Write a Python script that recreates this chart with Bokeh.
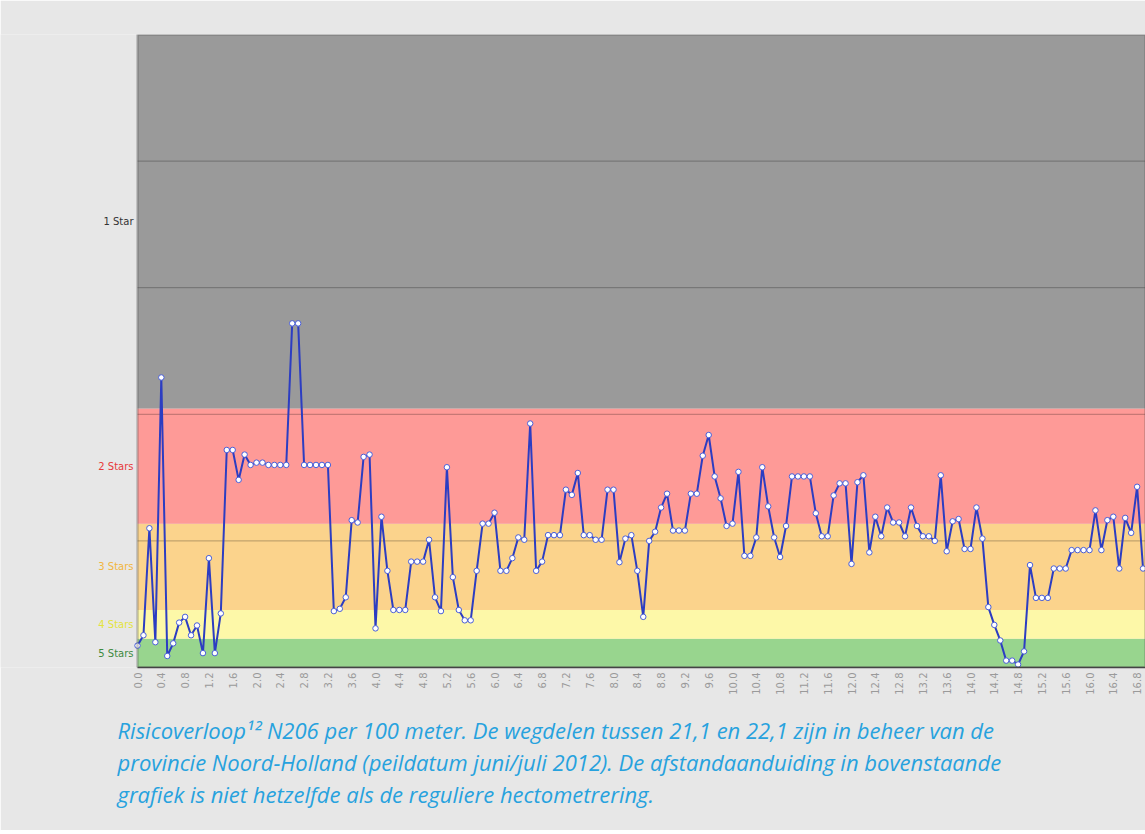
import math
from bokeh.plotting import figure
from bokeh.models import (ColumnDataSource, BoxAnnotation, Title, FixedTicker,
                          Range1d)
from bokeh.core.properties import value
from bokeh.embed import file_html
from bokeh.resources import INLINE

# ---------------- data ----------------
# risk score per 100 m section of the N206
risk = [
    1.9, 2.8, 12.1, 2.2, 25.2, 1.0, 2.1, 3.9, 4.4, 2.8,
    3.65, 1.25, 9.5, 1.25, 4.7, 18.9, 18.9, 16.3, 18.5, 17.6,
    17.8, 17.8, 17.6, 17.6, 17.6, 17.6, 29.9, 29.9, 17.6, 17.6,
    17.6, 17.6, 17.6, 4.9, 5.1, 6.1, 12.8, 12.6, 18.3, 18.5,
    3.4, 13.1, 8.4, 5.0, 5.0, 5.0, 9.2, 9.2, 9.2, 11.1,
    6.1, 4.9, 17.4, 7.85, 5.0, 4.1, 4.1, 8.4, 12.5, 12.5,
    13.45, 8.4, 8.4, 9.5, 11.3, 11.1, 21.2, 8.4, 9.2, 11.5,
    11.5, 11.5, 15.45, 15.0, 16.9, 11.5, 11.5, 11.1, 11.1, 15.45,
    15.45, 9.15, 11.2, 11.5, 8.4, 4.4, 11.0, 11.8, 13.9, 15.1,
    11.9, 11.9, 11.9, 15.1, 15.1, 18.4, 20.2, 16.6, 14.7, 12.3,
    12.5, 17.0, 9.7, 9.7, 11.3, 17.4, 14.0, 11.3, 9.6, 12.3,
    16.6, 16.6, 16.6, 16.6, 13.4, 11.4, 11.4, 14.95, 16.0, 16.0,
    9.0, 16.1, 16.7, 10.0, 13.1, 11.4, 13.9, 12.6, 12.6, 11.4,
    13.9, 12.3, 11.4, 11.4, 11.0, 16.7, 10.1, 12.7, 12.9, 10.3,
    10.3, 13.9, 11.2, 5.25, 3.7, 2.35, 0.6, 0.6, 0.26, 1.4,
    8.9, 6.05, 6.05, 6.05, 8.6, 8.6, 8.6, 10.2, 10.2, 10.2,
    10.2, 13.65, 10.2, 12.8, 13.1, 8.6, 13.0, 11.7, 15.7, 8.6,
]
# distance along the road (km), one section every 100 m
km = [round(i * 0.1, 1) for i in range(len(risk))]

tick_km = [0.0, 0.4, 0.8, 1.2, 1.6, 2.0, 2.4, 2.8, 3.2, 3.6, 4.0, 4.4, 4.8,
           5.2, 5.6, 6.0, 6.4, 6.8, 7.2, 7.6, 8.0, 8.4, 8.8, 9.2, 9.6, 10.0,
           10.4, 10.8, 11.2, 11.6, 12.0, 12.4, 12.8, 13.2, 13.6, 14.0, 14.4,
           14.8, 15.2, 15.6, 16.0, 16.4, 16.8]

# star-rating bands (risk score limits)
band_names = ["5 Stars", "4 Stars", "3 Stars", "2 Stars", "1 Star"]
band_low = [0.0, 2.5, 5.0, 12.5, 22.5]
band_high = [2.5, 5.0, 12.5, 22.5, 55.0]
band_fill = ["#98d58e", "#fdf8a8", "#fbd38c", "#fe9a97", "#9a9a9a"]
band_text = ["#3d8a3d", "#e4e43c", "#f2b640", "#e8393a", "#333333"]
grid_levels = [11, 22, 33, 44]

caption = [
    "Risicoverloop\u00b9\u00b2  N206 per 100 meter. De wegdelen tussen 21,1 en 22,1 zijn in beheer van de",
    "provincie Noord-Holland (peildatum juni/juli 2012). De afstandaanduiding in bovenstaande",
    "grafiek  is niet hetzelfde als de reguliere hectometrering.",
]

# ---------------- figure ----------------
PX_PER_KM = 59.5
LEFT_PX = 137
W, H = 1145, 830
x_start = -LEFT_PX / PX_PER_KM
x_end = (W - LEFT_PX) / PX_PER_KM

p = figure(width=W, height=H, output_backend="svg", toolbar_location=None,
           x_range=Range1d(x_start, x_end), y_range=Range1d(0, 55),
           min_border_left=0, min_border_right=0, min_border_top=34,
           min_border_bottom=163)
p.border_fill_color = "#e7e7e7"
p.background_fill_color = "#e7e7e7"
p.outline_line_color = None

# coloured star bands (start at km 0)
for lo, hi, col in zip(band_low, band_high, band_fill):
    p.add_layout(BoxAnnotation(left=0, bottom=lo, top=hi, fill_color=col,
                               fill_alpha=1.0, line_color=None, level="image"))
# plot-area border
p.add_layout(BoxAnnotation(left=0, bottom=0, top=55, fill_color=None,
                           line_color="#4a4a4a", line_width=2.5, level="overlay"))

p.yaxis.visible = False
p.xgrid.visible = False
p.ygrid.visible = False

# horizontal grid lines inside the plot area
p.ray(x=[0] * len(grid_levels), y=grid_levels, length=0, angle=0,
      line_color="#000000", line_alpha=0.28, line_width=1)

xa = p.xaxis[0]
xa.ticker = FixedTicker(ticks=tick_km)
xa.major_label_overrides = {t: f"{t:.1f}" for t in tick_km}
xa.major_label_orientation = math.pi / 2
xa.major_label_text_font = "DejaVu Sans"
xa.major_label_text_font_size = "10px"
xa.major_label_text_color = "#9a9a9a"
xa.major_label_standoff = 5
xa.axis_line_color = "#444444"
xa.axis_line_width = 1.5
xa.bounds = (0, x_end)
xa.major_tick_in = 0
xa.major_tick_out = 0
xa.minor_tick_in = 0
xa.minor_tick_out = 0

src = ColumnDataSource(dict(km=km, risk=risk))
p.line("km", "risk", source=src, line_color="#2c3dc2", line_width=2)
p.scatter("km", "risk", source=src, size=5.5, fill_color="white",
          line_color="#4a5fd8", line_width=1)

# star-rating labels left of the plot area
lab_src = ColumnDataSource(dict(
    x=[0] * len(band_names),
    y=[(lo + hi) / 2 for lo, hi in zip(band_low, band_high)],
    name=band_names, color=band_text))
p.text(x="x", y="y", text="name", source=lab_src, x_offset=-4,
       text_align="right", text_baseline="middle",
       text_font=value("DejaVu Sans"), text_font_size=value("10px"),
       text_color="color")

p.add_layout(Title(text="\n".join(caption), align="left", offset=117,
                   standoff=32, text_font="Open Sans", text_font_size="22px",
                   text_font_style="italic", text_color="#27a2de",
                   text_line_height=1.07),
             "below")

open("out.html", "w").write(file_html(p, INLINE))
